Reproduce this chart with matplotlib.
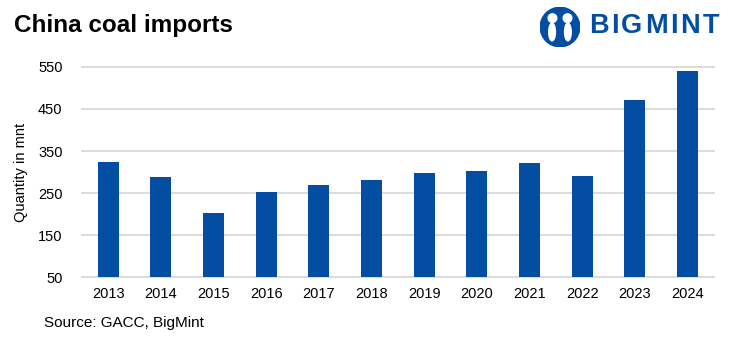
import matplotlib.pyplot as plt
from matplotlib.patches import Circle, Ellipse

years = ['2013', '2014', '2015', '2016', '2017', '2018',
         '2019', '2020', '2021', '2022', '2023', '2024']
imports_mnt = [324, 288, 202, 252, 269, 281, 298, 302, 321, 290, 471, 540]
yticks = [50, 150, 250, 350, 450, 550]

bar_color = '#034ea2'
grid_color = '#d9d9d9'
plt.rcParams['font.family'] = ['Liberation Sans', 'DejaVu Sans']

fig = plt.figure(figsize=(7.32, 3.38), dpi=100)
ax = fig.add_axes([0.112, 0.180, 0.863, 0.622])
x = range(len(years))
ax.bar(x, imports_mnt, width=0.4, color=bar_color, zorder=3)
ax.set_xlim(-0.5, len(years) - 0.5)
ax.set_ylim(50, 550)
ax.set_yticks(yticks)
ax.set_xticks(list(x))
ax.set_xticklabels(years)
ax.grid(axis='y', color=grid_color, lw=1.3, zorder=0, clip_on=False)
for s in ax.spines.values():
    s.set_visible(False)
ax.tick_params(length=0, labelsize=10.5, colors='black')
ax.tick_params(axis='x', pad=7)
ax.tick_params(axis='y', pad=14)
ax.set_ylabel('Quantity in mnt', fontsize=10.5, labelpad=7)

fig.text(0.019, 0.925, 'China coal imports', fontsize=17.5, fontweight='bold',
         va='center', ha='left')
fig.text(0.06, 0.045, 'Source: GACC, BigMint', fontsize=11, va='center', ha='left')

# logo: letter-spaced wordmark
renderer = fig.canvas.get_renderer()
xpix = 589
for ch in 'BIGMINT':
    t = fig.text(xpix / 732, 0.922, ch, fontsize=19.5, fontweight='bold',
                 color=bar_color, va='center', ha='left')
    xpix += t.get_window_extent(renderer).width + 2.5
lax = fig.add_axes([0.738, 0.835, 0.054, 0.17])
lax.set_xlim(-1, 1)
lax.set_ylim(-1, 1)
lax.set_aspect('equal')
lax.axis('off')
lax.add_patch(Circle((0, 0), 1, color=bar_color))
lax.add_patch(Circle((-0.38, 0.45), 0.22, color='white'))
lax.add_patch(Circle((0.38, 0.45), 0.22, color='white'))
lax.add_patch(Ellipse((-0.4, -0.25), 0.34, 0.9, color='white'))
lax.add_patch(Ellipse((0.4, -0.25), 0.34, 0.9, color='white'))

fig.savefig('out.png', dpi=100)
